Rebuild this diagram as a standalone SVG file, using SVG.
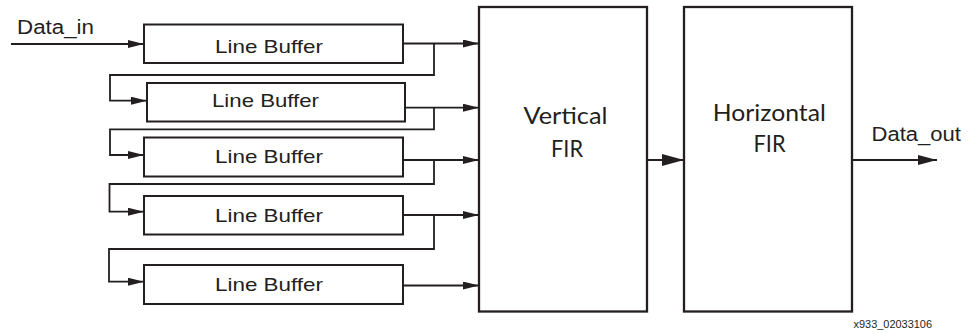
<svg xmlns="http://www.w3.org/2000/svg" width="972" height="333" viewBox="0 0 972 333">
<style>
.box{fill:#fff;stroke:#231f20;stroke-width:2}
.fir{fill:#fff;stroke:#231f20;stroke-width:2.3}
.wire{fill:none;stroke:#231f20;stroke-width:1.8}
.lbl{font-family:"Liberation Sans",Arial,sans-serif;font-size:19px;fill:#231f20}
.io{font-family:"Liberation Sans",Arial,sans-serif;font-size:20px;fill:#231f20}
.big{font-family:Lato,"Open Sans",sans-serif;font-size:23px;fill:#231f20;text-anchor:middle}
.note{font-family:"Liberation Sans",Arial,sans-serif;font-size:10px;fill:#231f20}
</style>
<defs>
<marker id="a" markerUnits="userSpaceOnUse" markerWidth="16" markerHeight="8" refX="16" refY="4" orient="auto" viewBox="0 0 16 8"><path d="M0,0 L16,4 L0,8 z" fill="#231f20"/></marker>
<marker id="b" markerUnits="userSpaceOnUse" markerWidth="19" markerHeight="10" refX="19" refY="5" orient="auto" viewBox="0 0 19 10"><path d="M0,0 L19,5 L0,10 z" fill="#231f20"/></marker>
<marker id="c" markerUnits="userSpaceOnUse" markerWidth="22" markerHeight="12" refX="22" refY="6" orient="auto" viewBox="0 0 22 12"><path d="M0,0 L22,6 L0,12 z" fill="#231f20"/></marker>
</defs>
<g id="connectors">
<path class="wire" d="M11,44 H144" marker-end="url(#a)"/>
<path class="wire" d="M403,43.5 H479" marker-end="url(#a)"/>
<path class="wire" d="M434,43.5 V75 H110 V100.7 H147" marker-end="url(#a)"/>
<path class="wire" d="M405,107.7 H479" marker-end="url(#a)"/>
<path class="wire" d="M434,107.7 V129.3 H110 V155 H144" marker-end="url(#a)"/>
<path class="wire" d="M403,160 H479" marker-end="url(#a)"/>
<path class="wire" d="M434,160 V184 H109.5 V211.7 H144" marker-end="url(#a)"/>
<path class="wire" d="M403,215 H479" marker-end="url(#a)"/>
<path class="wire" d="M434,215 V249 H109 V281.7 H144" marker-end="url(#a)"/>
<path class="wire" d="M403,285.5 H479" marker-end="url(#a)"/>
<path class="wire" d="M647,160 H684" marker-end="url(#c)"/>
<path class="wire" d="M852,160 H937" marker-end="url(#b)"/>
</g>
<g id="data_in"><text class="io" x="17" y="34.3" textLength="77" lengthAdjust="spacingAndGlyphs">Data_in</text></g>
<g id="buf1"><rect class="box" x="144" y="24.5" width="259" height="38.5"/><text class="lbl" x="215" y="53" textLength="108" lengthAdjust="spacingAndGlyphs">Line Buffer</text></g>
<g id="buf2"><rect class="box" x="147" y="83" width="258" height="38.5"/><text class="lbl" x="212" y="107" textLength="107" lengthAdjust="spacingAndGlyphs">Line Buffer</text></g>
<g id="buf3"><rect class="box" x="144" y="137.5" width="259" height="39"/><text class="lbl" x="215" y="163" textLength="108" lengthAdjust="spacingAndGlyphs">Line Buffer</text></g>
<g id="buf4"><rect class="box" x="144" y="196" width="259" height="38.5"/><text class="lbl" x="215" y="221.5" textLength="108" lengthAdjust="spacingAndGlyphs">Line Buffer</text></g>
<g id="buf5"><rect class="box" x="144" y="265" width="259" height="39"/><text class="lbl" x="215" y="291" textLength="108" lengthAdjust="spacingAndGlyphs">Line Buffer</text></g>
<g id="vfir"><rect class="fir" x="479" y="7" width="168" height="304.5"/><text class="big" x="565.5" y="123.5" textLength="84" lengthAdjust="spacingAndGlyphs">Vertical</text><text class="big" x="567" y="156.5" textLength="32" lengthAdjust="spacingAndGlyphs">FIR</text></g>
<g id="hfir"><rect class="fir" x="684" y="7" width="168" height="304.5"/><text class="big" x="769.3" y="120.5" textLength="113" lengthAdjust="spacingAndGlyphs">Horizontal</text><text class="big" x="769.5" y="151.5" textLength="32" lengthAdjust="spacingAndGlyphs">FIR</text></g>
<g id="data_out"><text class="io" x="871.5" y="141" textLength="89.5" lengthAdjust="spacingAndGlyphs">Data_out</text></g>
<text class="note" x="853.5" y="328" textLength="78.5" lengthAdjust="spacingAndGlyphs">x933_02033106</text>
</svg>
